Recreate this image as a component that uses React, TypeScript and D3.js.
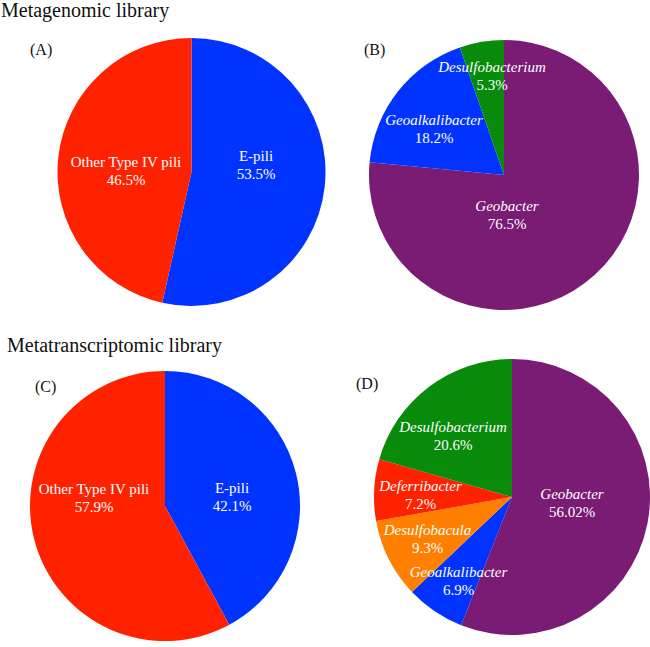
import React from 'react';
import * as d3 from 'd3';

// pili type shares, panels A and C
const piliTypes = ['E-pili', 'Other Type IV pili'];
const piliGenomic = [53.5, 46.5];
const piliTranscript = [42.1, 57.9];
const piliColors = ['#0033ff', '#ff2200'];

// genera, panel B
const generaGenomic = ['Geobacter', 'Geoalkalibacter', 'Desulfobacterium'];
const generaGenomicValues = [76.5, 18.2, 5.3];
const generaGenomicColors = ['#7a1b74', '#0033ff', '#088a0b'];

// genera, panel D
const generaTranscript = ['Geobacter', 'Geoalkalibacter', 'Desulfobacula', 'Deferribacter', 'Desulfobacterium'];
const generaTranscriptValues = [56.02, 6.9, 9.3, 7.2, 20.6];
const generaTranscriptColors = ['#7a1b74', '#0033ff', '#ff7f00', '#ff2200', '#088a0b'];

const FONT = '"Liberation Serif", "Times New Roman", serif';

type PanelProps = {
  letter: string;
  cx: number;
  cy: number;
  r: number;
  lx: number;
  ly: number;
  names: string[];
  values: number[];
  colors: string[];
  italic?: boolean;
  nudges: number[][]; // label block offsets from the centre
};

function PiePanel(p: PanelProps) {
  const pie = d3.pie<number>().sort(null).value(d => d);
  const arc = d3.arc<d3.PieArcDatum<number>>().innerRadius(0).outerRadius(p.r);
  const slices = pie(p.values);
  return (
    <g>
      <text x={p.lx} y={p.ly} fontSize={16} fontFamily={FONT} fill="#111">({p.letter})</text>
      <g transform={`translate(${p.cx},${p.cy})`}>
        {slices.map((s, i) => (
          <path key={i} d={arc(s) || ''} fill={p.colors[i]} />
        ))}
        {slices.map((s, i) => {
          const [dx, dy] = p.nudges[i];
          return (
            <text key={'t' + i} textAnchor="middle" fontSize={15} fontFamily={FONT} fill="#fff">
              <tspan x={dx} y={dy - 4} fontStyle={p.italic ? 'italic' : 'normal'}>{p.names[i]}</tspan>
              <tspan x={dx} y={dy + 14}>{String(s.data) + '%'}</tspan>
            </text>
          );
        })}
      </g>
    </g>
  );
}

export default function App() {
  return (
    <svg width={650} height={647} style={{ position: 'absolute', left: 0, top: 0, background: '#fff' }}>
      <text x={1} y={17} fontSize={20} fontFamily={FONT} fill="#111">Metagenomic library</text>
      <text x={7} y={352} fontSize={20} fontFamily={FONT} fill="#111">Metatranscriptomic library</text>

      <PiePanel letter="A" cx={191.5} cy={172} r={134} lx={30} ly={55}
        names={piliTypes} values={piliGenomic} colors={piliColors}
        nudges={[[64.5, -7], [-65.5, -1]]} />
      <PiePanel letter="B" cx={504} cy={175} r={135} lx={364} ly={55}
        names={generaGenomic} values={generaGenomicValues} colors={generaGenomicColors} italic
        nudges={[[3, 40], [-70, -46], [-12, -99]]} />
      <PiePanel letter="C" cx={165} cy={506} r={135} lx={35} ly={392}
        names={[piliTypes[0], piliTypes[1]]} values={piliTranscript} colors={piliColors}
        nudges={[[67, -9], [-71, -8]]} />
      <PiePanel letter="D" cx={512} cy={497} r={138} lx={356} ly={389}
        names={generaTranscript} values={generaTranscriptValues} colors={generaTranscriptColors} italic
        nudges={[[60, 5.5], [-53.5, 84], [-84.5, 41.5], [-91.5, -2], [-59, -61]]} />
    </svg>
  );
}
